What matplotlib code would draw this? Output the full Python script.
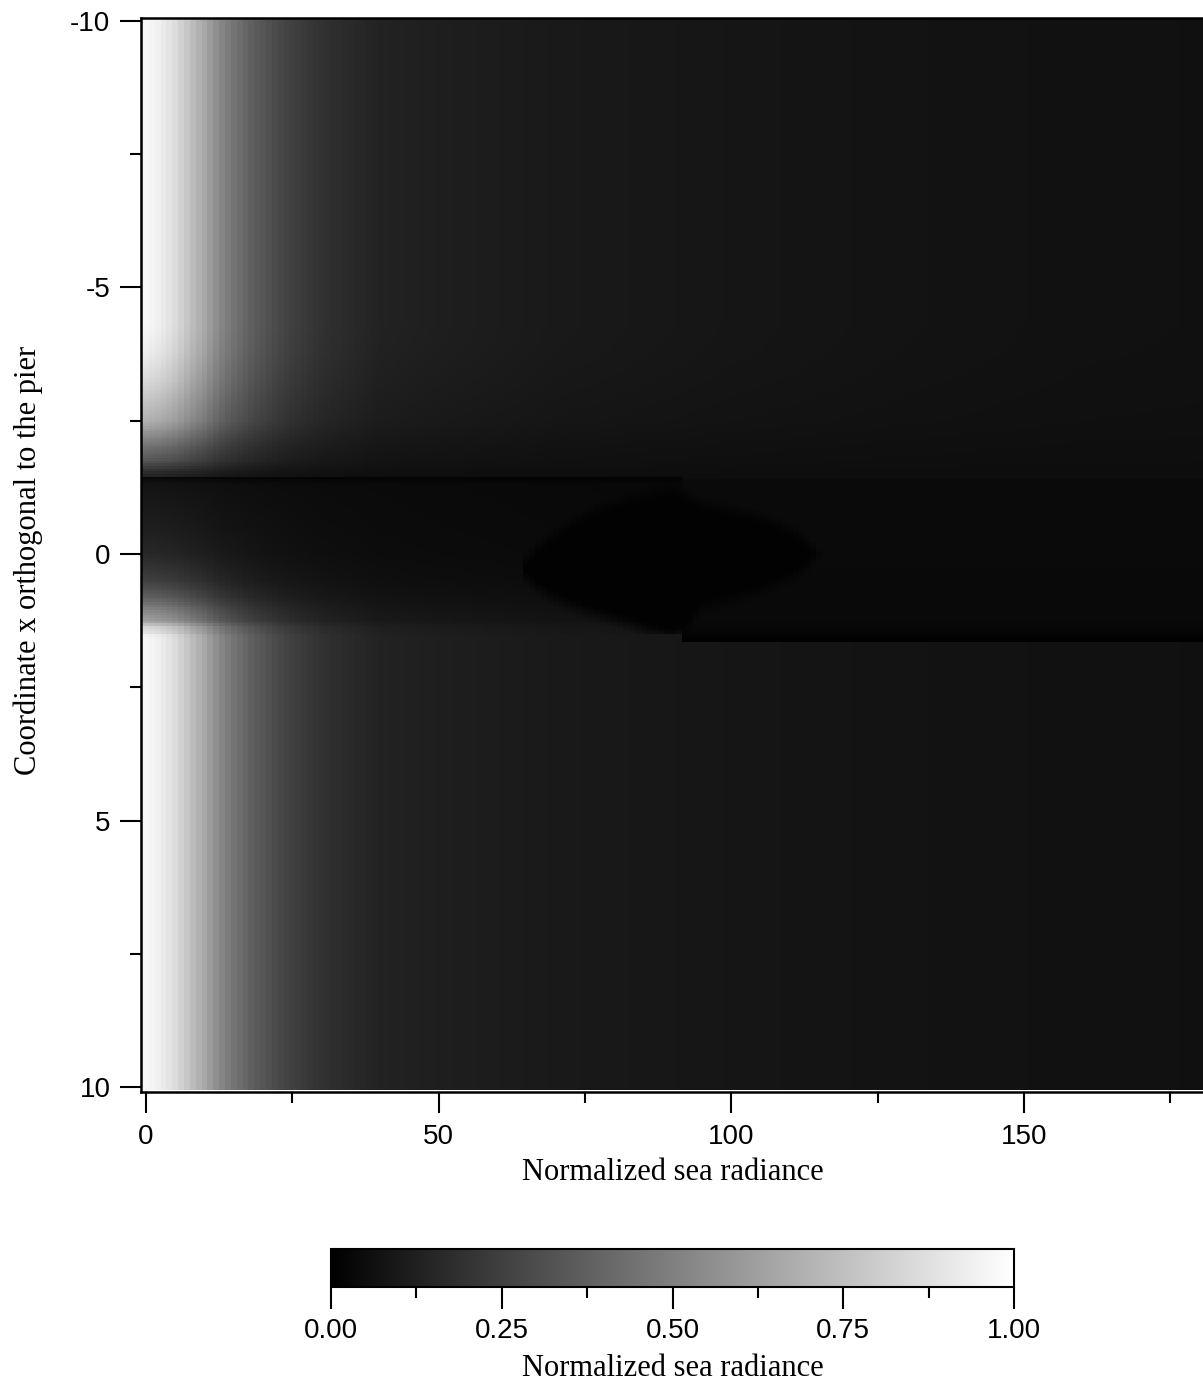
import numpy as np
import matplotlib
matplotlib.use("Agg")
import matplotlib.pyplot as plt
from matplotlib.ticker import MultipleLocator, FormatStrFormatter

# ---------------- values ----------------
# brightness far from the pier, as a function of the horizontal coordinate
dist_nodes = [0, 2, 4.5, 6.5, 8.3, 10, 11.8, 13.5, 15.2, 17, 18.7, 20.4, 22.3,
              25, 27.7, 30.6, 35, 40, 50, 70, 100, 130, 160, 181]
far_field = [0.97, 0.94, 0.88, 0.80, 0.72, 0.66, 0.57, 0.50, 0.45, 0.40, 0.36,
             0.33, 0.29, 0.25, 0.22, 0.19, 0.165, 0.135, 0.12, 0.10, 0.085,
             0.075, 0.068, 0.066]

# pier band edges (left / right of the step)
step_x = 92
band_top_left, band_top_right = -1.47, -1.38
band_bot_left, band_bot_right = 1.50, 1.65

# attenuation above the pier
top_y = [-10.1, -4.3, -3.8, -3.25, -2.9, -2.5, -2.25, -2.0, -1.75, -1.56, -1.47]
top_w = [1.0, 1.0, 0.96, 0.87, 0.79, 0.70, 0.56, 0.42, 0.31, 0.15, 0.10]

# attenuation below the pier
bot_y = [1.5, 1.6, 10.1]
bot_w = [0.97, 1.0, 1.0]

# inside the pier band (left of the step)
band_y = [-1.47, -1.38, -1.0, -0.5, 0.0, 0.5, 0.82, 1.07, 1.26, 1.38, 1.5]
band_w = [0.0, 0.03, 0.053, 0.08, 0.12, 0.22, 0.36, 0.53, 0.63, 0.87, 0.92]
floor_x = [0, 30, 60, 92]
floor_v = [0.045, 0.04, 0.035, 0.03]
floor_fy_y = [-1.47, -1.38, -1.3, 1.5]
floor_fy = [0.3, 0.5, 1.0, 1.0]

# inside the pier band (right of the step)
rband_y = [-1.38, -1.2, 0.0, 1.2, 1.45, 1.55, 1.65]
rband_v = [0.042, 0.042, 0.04, 0.036, 0.028, 0.008, 0.005]

# dark lens under the pier
lens_x = [64, 65, 67, 70, 74, 78, 82, 86, 90, 92, 95, 100, 104, 108, 111, 113, 114.5, 115.5]
lens_top = [0.25, -0.05, -0.3, -0.55, -0.82, -1.03, -1.18, -1.28, -1.36, -1.3, -1.1, -0.98, -0.88, -0.72, -0.55, -0.38, -0.22, 0.0]
lens_bot = [0.3, 0.6, 0.8, 1.0, 1.18, 1.32, 1.45, 1.6, 1.7, 1.6, 1.15, 1.0, 0.88, 0.72, 0.55, 0.38, 0.22, 0.0]
lens_v = 0.008

x_ticks = [0, 50, 100, 150]
y_ticks = [-10, -5, 0, 5, 10]
cb_ticks = [0.0, 0.25, 0.5, 0.75, 1.0]

# ---------------- build the field ----------------
x_edges = np.concatenate([[-0.85], np.arange(0.5, 181.6, 1.0)])
y_edges = np.arange(-10.05, 10.10, 0.05)
xc = 0.5 * (x_edges[:-1] + x_edges[1:])
yc = 0.5 * (y_edges[:-1] + y_edges[1:])
X, Y = np.meshgrid(xc, yc)

BG = np.interp(X, dist_nodes, far_field)
left = X < step_x
btop = np.where(left, band_top_left, band_top_right)
bbot = np.where(left, band_bot_left, band_bot_right)
top = Y < btop
bot = Y > bbot
band = ~top & ~bot

Z = np.zeros_like(X)
wt = np.interp(Y, top_y, top_w)
Zt = 0.05 + (BG - 0.05) * wt
Z[top] = Zt[top]

wb = np.interp(Y, bot_y, bot_w)
Zb = 0.05 + (BG - 0.05) * wb
Z[bot] = Zb[bot]

fl = np.interp(X, floor_x, floor_v) * np.interp(Y, floor_fy_y, floor_fy)
wband = np.interp(Y, band_y, band_w)
Zl = fl + (BG - fl) * wband
Zr = np.interp(Y, rband_y, rband_v)
Zband = np.where(left, Zl, Zr)
Z[band] = Zband[band]

lt = np.interp(X, lens_x, lens_top)
lb = np.interp(X, lens_x, lens_bot)
inside = (X >= lens_x[0]) & (X <= lens_x[-1]) & band
d = np.minimum(Y - lt, lb - Y)
t = np.clip(d / 0.3, 0, 1) * inside
Z = Z * (1 - t) + lens_v * t

# ---------------- draw ----------------
plt.rcParams['font.family'] = ['Liberation Sans', 'DejaVu Sans']
plt.rcParams['axes.unicode_minus'] = False
W, H = 1203, 1384
fig = plt.figure(figsize=(W / 100, H / 100), dpi=100)

ax = fig.add_axes([141 / W, 1 - 1092 / H, (1203 - 141) / W, (1092 - 18) / H])
mesh = ax.pcolormesh(x_edges, y_edges, Z, cmap='gray', vmin=0, vmax=1,
                     shading='flat', antialiased=False, edgecolors='none')
ax.set_xlim(-0.85, 180.6)
ax.set_ylim(10.09, -10.05)
ax.set_xticks(x_ticks)
ax.set_yticks(y_ticks)
ax.xaxis.set_minor_locator(MultipleLocator(25))
ax.yaxis.set_minor_locator(MultipleLocator(2.5))
ax.tick_params(which='major', direction='out', length=15, width=1.5,
               labelsize=20, colors='black')
ax.tick_params(which='minor', direction='out', length=8, width=1.5)
ax.tick_params(axis='x', pad=8)
ax.tick_params(axis='y', pad=7)
ax.spines['right'].set_visible(False)
for s in ['left', 'top', 'bottom']:
    ax.spines[s].set_linewidth(1.8)

fig.text(673 / W, 1 - 1173 / H, 'Normalized sea radiance', ha='center',
         va='center', fontsize=22, family='Liberation Serif')
fig.text(28 / W, 1 - 560 / H, 'Coordinate x orthogonal to the pier', ha='center',
         va='center', rotation=90, fontsize=22, family='Liberation Serif')

cax = fig.add_axes([331 / W, 1 - 1287 / H, 683 / W, 38 / H])
cb = fig.colorbar(mesh, cax=cax, orientation='horizontal')
cb.set_ticks(cb_ticks)
cb.ax.xaxis.set_major_formatter(FormatStrFormatter('%.2f'))
cb.ax.xaxis.set_minor_locator(MultipleLocator(0.125))
cb.ax.tick_params(which='major', direction='out', length=16, width=1.5,
                  labelsize=20, pad=6)
cb.ax.tick_params(which='minor', direction='out', length=8, width=1.5)
cb.outline.set_linewidth(1.5)
fig.text(673 / W, 1 - 1368 / H, 'Normalized sea radiance', ha='center',
         va='center', fontsize=22, family='Liberation Serif')

fig.savefig('out.png', dpi=100)
